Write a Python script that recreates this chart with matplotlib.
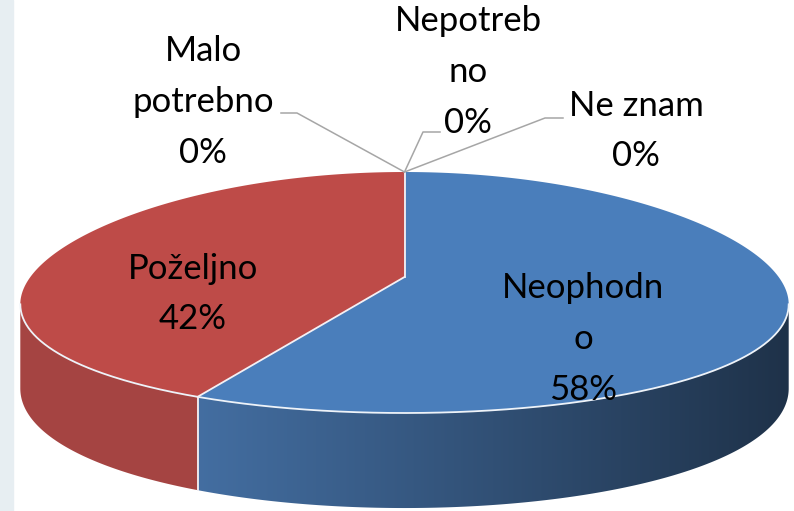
import numpy as np
import matplotlib.pyplot as plt
from matplotlib.patches import Polygon, Rectangle

# data
categories = ["Neophodno", "Poželjno", "Malo potrebno", "Nepotrebno", "Ne znam"]
values = [58, 42, 0, 0, 0]
# Excel wrapped the label text like this
wrapped_names = ["Neophodn\no", "Poželjno", "Malo\npotrebno", "Nepotreb\nno", "Ne znam"]
colors = ["#4A7EBB", "#BE4B48", "#9BBB59", "#8064A2", "#4BACC6"]
side_colors = ["#4F81BD", "#C0504D", "#9BBB59", "#8064A2", "#4BACC6"]

# label block centres and leader elbows (pixel coords)
label_pos = [(583, 339), (193, 294), (203, 102), (468, 72), (636, 131)]
leader_elbow = [None, None, (297, 113), (423, 132), (545, 118)]
leader_end = [None, None, (281, 113), (440, 132), (563, 118)]

plt.rcParams['font.family'] = ['Lato', 'DejaVu Sans']

# perspective set-up of the 3d pie
CX, CY = 404.5, 277
R, A, K, H = 381, 118.5, 0.1287, 82.8
SAG = 12


def proj(r, theta, z=0.0):
    ux, uy = r * np.sin(theta), r * np.cos(theta)
    w = 1 + K * uy
    x = CX + R * ux / w
    y = CY - A * uy / w + SAG * ux ** 2 + z * H / w
    return x, y


def to_rgb(hexcol):
    return np.array([int(hexcol[i:i + 2], 16) for i in (1, 3, 5)]) / 255.0


fig = plt.figure(figsize=(7.94, 5.11), dpi=100)
ax = fig.add_axes([0, 0, 1, 1])
ax.set_xlim(0, 794)
ax.set_ylim(511, 0)
ax.axis('off')
ax.add_patch(Rectangle((0, 0), 13, 511, color="#E7EEF2", zorder=0))

total = sum(values)
fracs = np.array(values) / total
bounds = np.concatenate([[0], np.cumsum(fracs)]) * 2 * np.pi

vis_lo = np.arccos(-K)
vis_hi = 2 * np.pi - vis_lo

# sides, shaded left to right
gx = np.linspace(0, 794, 400)
ux_g = (gx - CX) / R
fac = np.minimum(0.86, 0.69 - 0.3 * ux_g)
for i in range(len(values)):
    t0, t1 = max(bounds[i], vis_lo), min(bounds[i + 1], vis_hi)
    if t1 <= t0:
        continue
    ts = np.linspace(t0, t1, 200)
    xt, yt = proj(1, ts)
    xb, yb = proj(1, ts[::-1], 1)
    pts = list(zip(xt, yt)) + list(zip(xb, yb))
    poly = Polygon(pts, closed=True, facecolor='none', edgecolor='none')
    ax.add_patch(poly)
    img = np.clip(fac[None, :, None] * to_rgb(side_colors[i])[None, None, :], 0, 1)
    im = ax.imshow(img, extent=(0, 794, 511, 0), aspect='auto', zorder=2,
                   interpolation='bilinear')
    im.set_clip_path(poly)

# top faces
for i in range(len(values)):
    if values[i] == 0:
        continue
    ts = np.linspace(bounds[i], bounds[i + 1], 200)
    xs, ys = proj(1, ts)
    pts = [(CX, CY)] + list(zip(xs, ys))
    ax.add_patch(Polygon(pts, closed=True, facecolor=colors[i], edgecolor='none', zorder=3))

# white edges
ts = np.linspace(vis_lo, vis_hi, 300)
xs, ys = proj(1, ts)
ax.plot(xs, ys, color="#EEF3F9", lw=1.3, zorder=4)
for b in bounds[:2]:
    xe, ye = proj(1, b)
    ax.plot([CX, xe], [CY, ye], color="#F4F0F4", lw=1.3, zorder=4)
    if vis_lo < b < vis_hi:
        xe2, ye2 = proj(1, b, 1)
        ax.plot([xe, xe2], [ye, ye2], color="#F4F0F4", lw=1.3, zorder=4)

# labels
for i, name in enumerate(wrapped_names):
    pct = round(values[i] / total * 100)
    x, y = label_pos[i]
    ax.text(x, y, f"{name}\n{pct}%", ha='center', va='center', fontsize=25,
            linespacing=1.72, color='black', zorder=6)
    if leader_elbow[i] is not None:
        ax_, ay_ = proj(1, bounds[i])
        ex, ey = leader_elbow[i]
        lx, ly = leader_end[i]
        ax.plot([ax_, ex, lx], [ay_, ey, ly], color="#A6A6A6", lw=1.1, zorder=5)

ax.set_xlim(0, 794)
ax.set_ylim(511, 0)
fig.savefig("out.png", dpi=100)
